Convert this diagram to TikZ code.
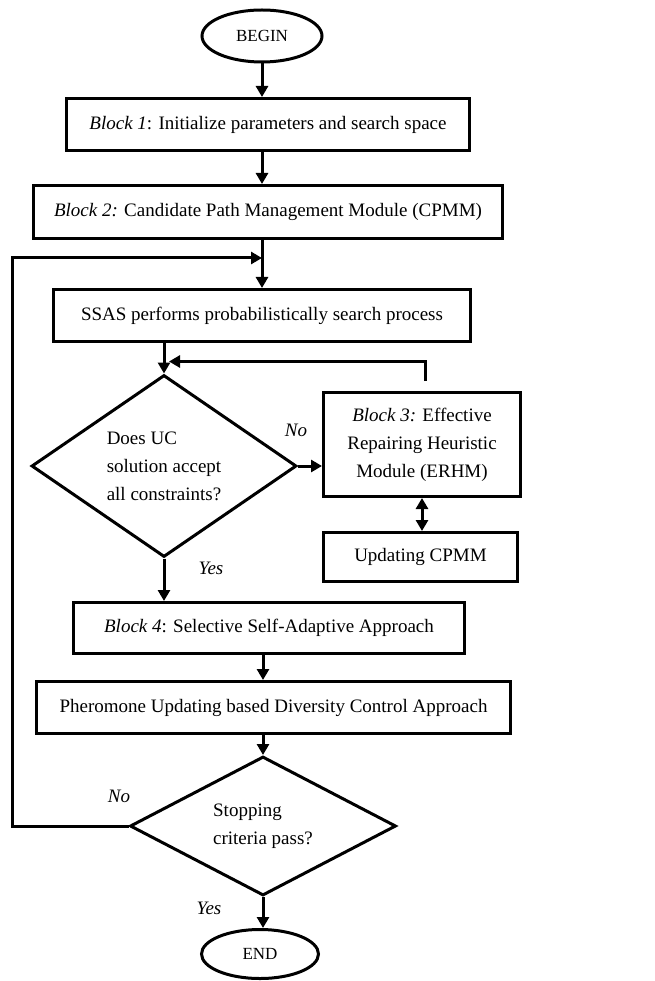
\documentclass[tikz,border=0pt]{standalone}
\usepackage{fontspec}
\setmainfont{Liberation Serif}
\usetikzlibrary{shapes.geometric,arrows.meta,calc}

\begin{document}
\begin{tikzpicture}[x=1pt, y=-1pt,
  every node/.style={font=\fontsize{19}{28}\selectfont},
  blockbox/.style={draw, line width=3pt, rectangle, inner sep=0pt},
  terminal/.style={draw, line width=3pt, ellipse, inner sep=0pt, font=\fontsize{17}{20}\selectfont},
  decision/.style={draw, line width=3pt, diamond, inner sep=0pt, align=left},
  flow/.style={line width=3pt, -{Triangle[length=11pt,width=12pt]}},
  flowboth/.style={line width=3pt, {Triangle[length=11pt,width=12pt]}-{Triangle[length=11pt,width=12pt]}},
  answer/.style={font=\fontsize{19}{28}\selectfont\itshape}
]
\useasboundingbox (0,0) rectangle (654,981);

% Blocks of the flow chart
\node[terminal, minimum width=120pt, minimum height=52pt] (begin) at (262,36) {BEGIN};
\node[blockbox, minimum width=403pt, minimum height=52pt] (blk1) at (268,124.5) {\textit{Block 1}: Initialize parameters and search space};
\node[blockbox, minimum width=469pt, minimum height=53pt] (blk2) at (268,212) {\textit{Block 2:} Candidate Path Management Module (CPMM)};
\node[blockbox, minimum width=417pt, minimum height=52pt] (ssas) at (262,315.5) {SSAS performs probabilistically search process};
\node[decision, shape aspect=1.45, minimum width=265pt, minimum height=182pt] (check) at (164,466) {Does UC\\solution accept\\all constraints?};
\node[blockbox, minimum width=197pt, minimum height=104pt, align=center] (blk3) at (422,444.5) {\textit{Block 3:} Effective\\Repairing Heuristic\\Module (ERHM)};
\node[blockbox, minimum width=194pt, minimum height=49pt] (upd) at (420.5,557) {Updating CPMM};
\node[blockbox, minimum width=391pt, minimum height=51pt] (blk4) at (269,628) {\textit{Block 4}: Selective Self-Adaptive Approach};
\node[blockbox, minimum width=474pt, minimum height=52pt] (pher) at (273.5,707.5) {Pheromone Updating based Diversity Control Approach};
\node[decision, shape aspect=1.9, minimum width=266pt, minimum height=139pt] (stop) at (263,826) {Stopping\\criteria pass?};
\node[terminal, minimum width=117pt, minimum height=49pt] (finish) at (260,954) {END};

% Answers
\node[answer] (no1) at (296,430) {No};
\node[answer] (yes1) at (211,568) {Yes};
\node[answer] (no2) at (119,796) {No};
\node[answer] (yes2) at (209,908) {Yes};

% Helper points
\coordinate (join) at ($(blk2.south -| begin)+(0,18)$);
\coordinate (fb) at ($(blk3.north)+(3,-10)$);
\coordinate (merge) at ($(check.north)+(5,-12)$);

% Main flow
\draw[flow] (begin.south) -- (begin.south |- blk1.north);
\draw[flow] (blk1.south -| begin) -- (blk2.north -| begin);
\draw[flow] (blk2.south -| begin) -- (ssas.north -| begin);
\draw[flow] (ssas.south -| check) -- (check.north);
\draw[flow] (check.east) -- (check.east -| blk3.west);
\draw[flow] (fb) |- (merge);
\draw[flowboth] (blk3.south) -- (blk3.south |- upd.north);
\draw[flow] (check.south) -- (check.south |- blk4.north);
\draw[flow] (blk4.south -| stop) -- (pher.north -| stop);
\draw[flow] (pher.south -| stop) -- (stop.north);
\draw[flow] (stop.south) -- (stop.south |- finish.north);

% Loop back
\draw[flow] (stop.west) -- ++(-116,0) |- (join);

\end{tikzpicture}
\end{document}
